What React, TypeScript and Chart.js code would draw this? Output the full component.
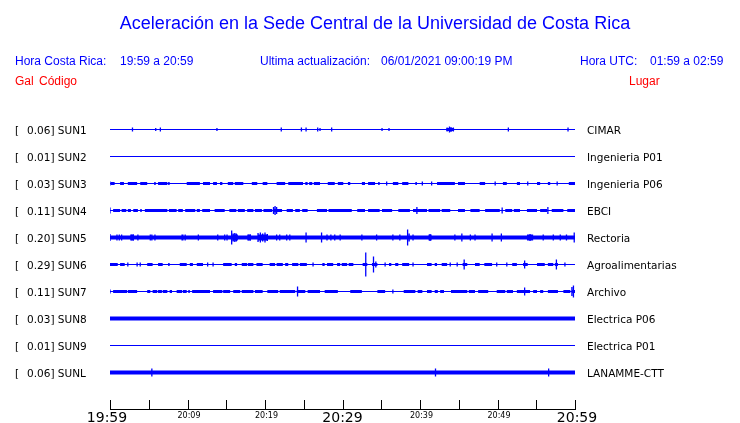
import React, { useEffect, useRef } from 'react';
import { Chart, registerables } from 'chart.js';

Chart.register(...registerables);

// ---------- texts ----------
const TITLE = 'Aceleración en la Sede Central de la Universidad de Costa Rica';
const LOCAL_LABEL = 'Hora Costa Rica:';
const LOCAL_RANGE = '19:59 a 20:59';
const UPDATE_LABEL = 'Ultima actualización:';
const UPDATE_VALUE = '06/01/2021 09:00:19 PM';
const UTC_LABEL = 'Hora UTC:';
const UTC_RANGE = '01:59 a 02:59';
const GAL_HEADER = 'Gal';
const CODE_HEADER = 'Código';
const PLACE_HEADER = 'Lugar';

// ---------- stations ----------
const stations = ['SUN1', 'SUN2', 'SUN3', 'SUN4', 'SUN5', 'SUN6', 'SUN7', 'SUN8', 'SUN9', 'SUNL'];
const peakGal = ['0.06', '0.01', '0.03', '0.11', '0.20', '0.29', '0.11', '0.03', '0.01', '0.06'];
const places = ['CIMAR', 'Ingenieria P01', 'Ingenieria P06', 'EBCI', 'Rectoria', 'Agroalimentarias', 'Archivo', 'Electrica P06', 'Electrica P01', 'LANAMME-CTT'];

// background noise band (px) and burst band (px) per trace
const noisePx = [1, 1, 1, 1, 4, 1, 1, 4, 1, 4];
const burstPx = [3, 0, 3, 3, 6, 3, 3, 0, 0, 0];

// bursts: [start minute, end minute]
const sun1Bursts = [[43.4, 44.4]];
const sun2Bursts: number[][] = [];
const sun3Bursts = [[0.1, 0.6], [1.3, 1.8], [2.3, 3.5], [3.9, 4.8], [5.7, 5.9], [6.2, 7.4], [7.5, 7.7], [9.9, 11.6], [12.0, 12.9], [13.3, 13.8], [14.2, 14.5], [15.2, 15.9], [16.1, 17.2], [18.3, 19.0], [19.7, 20.3], [21.5, 22.6], [23.0, 24.9], [25.2, 25.5], [25.7, 26.1], [26.3, 27.1], [28.1, 29.0], [29.4, 30.1], [30.7, 31.0], [32.5, 32.9], [33.3, 34.2], [34.6, 34.8], [36.5, 37.2], [37.7, 38.5], [39.4, 39.6], [42.2, 44.5], [44.9, 45.8], [47.7, 48.4], [50.7, 51.2], [52.5, 52.9], [55.1, 55.5], [56.5, 56.8], [59.2, 60]];
const sun4Bursts = [[0.4, 1.3], [1.5, 2.1], [2.3, 2.7], [3.0, 3.6], [3.9, 4.1], [4.5, 7.4], [7.6, 8.6], [8.8, 9.4], [9.7, 11.0], [11.2, 11.6], [11.9, 12.9], [13.5, 14.8], [15.4, 16.3], [16.5, 17.4], [17.7, 18.5], [18.7, 19.6], [19.8, 20.9], [21.0, 22.2], [22.8, 23.6], [23.9, 24.5], [24.8, 25.5], [26.7, 28.0], [28.2, 31.2], [31.9, 32.9], [33.3, 34.8], [35.1, 36.4], [37.2, 38.7], [39.1, 40.9], [41.1, 42.6], [42.8, 43.9], [44.9, 45.8], [46.5, 47.7], [48.4, 50.3], [51.0, 51.9], [52.1, 52.9], [53.8, 55.1], [55.5, 56.4], [57.0, 58.5], [59.0, 60]];
const sun5Bursts = [[2.7, 3.1], [15.8, 16.5], [17.8, 18.2], [19.1, 20.3], [41.1, 41.5], [53.8, 54.6]];
const sun6Bursts = [[0, 1.0], [1.3, 1.9], [4.8, 5.5], [6.2, 6.8], [7.5, 7.7], [9.0, 9.9], [10.3, 10.7], [11.2, 12.0], [14.6, 15.7], [16.1, 16.4], [17.0, 17.7], [17.8, 18.5], [18.9, 19.7], [20.6, 21.3], [21.5, 22.3], [22.6, 23.0], [23.5, 24.3], [24.5, 25.4], [27.4, 27.7], [28.0, 28.8], [29.3, 29.7], [29.9, 30.6], [30.8, 31.4], [32.6, 33.2], [33.8, 34.5], [36.0, 36.3], [36.8, 37.2], [37.7, 38.6], [40.9, 41.5], [41.9, 42.2], [42.8, 43.5], [45.5, 46.1], [47.1, 47.7], [48.3, 49.3], [51.9, 52.5], [53.3, 53.9], [55.1, 56.1], [56.5, 57.2], [57.4, 57.8]];
const sun7Bursts = [[0.4, 2.2], [2.3, 3.5], [4.8, 5.2], [5.5, 6.1], [6.2, 6.7], [6.8, 7.4], [7.7, 8.0], [8.6, 9.3], [9.4, 9.9], [10.1, 10.3], [10.6, 12.9], [13.3, 14.5], [14.6, 15.5], [15.9, 16.8], [17.0, 18.5], [18.7, 19.7], [20.3, 21.7], [21.9, 23.9], [24.1, 25.2], [25.5, 27.1], [27.7, 29.4], [31.0, 32.5], [34.5, 35.5], [37.9, 39.4], [39.7, 40.3], [40.9, 41.5], [41.9, 42.3], [42.6, 43.1], [43.5, 43.6], [44.0, 46.1], [46.3, 47.1], [47.5, 48.8], [49.3, 49.4], [49.9, 51.0], [51.2, 52.0], [52.5, 54.2], [54.6, 55.1], [55.5, 55.9], [56.5, 57.8], [58.5, 59.4], [59.6, 60]];
const sun8Bursts: number[][] = [];
const sun9Bursts: number[][] = [];
const sunLBursts: number[][] = [];

// spikes: [minute, half amplitude in px]
const sun1Spikes = [[2.9, 2], [5.9, 1.5], [6.5, 2], [13.8, 1.5], [22.1, 2], [24.7, 2], [25.3, 2], [26.8, 2], [27.1, 1.5], [28.6, 2], [35.1, 1.5], [36.0, 1.5], [43.5, 2], [43.8, 3], [44.0, 2.5], [44.3, 2], [51.4, 2], [59.1, 2]];
const sun2Spikes: number[][] = [];
const sun3Spikes = [[0.0, 2], [35.7, 2], [40.3, 2], [41.5, 2], [49.7, 2], [53.9, 2], [57.7, 2]];
const sun4Spikes = [[0.0, 3], [21.1, 3.5], [21.3, 4.5], [21.5, 3.5], [39.6, 3.5], [50.6, 3], [56.5, 3.5]];
const sun5Spikes = [[0.0, 3.5], [0.9, 3], [1.2, 3], [1.5, 3], [2.7, 3], [3.0, 3], [3.6, 3], [5.2, 3], [5.4, 3], [5.8, 3], [9.3, 3], [9.4, 3], [9.7, 3], [11.4, 3], [13.9, 3], [14.8, 3], [15.1, 3], [15.7, 7], [15.9, 4], [16.1, 4.5], [16.3, 4], [17.8, 3], [18.1, 3], [19.1, 4.5], [19.4, 5], [19.7, 4], [20.0, 5], [20.3, 3.5], [21.5, 3], [21.9, 3], [22.8, 3], [23.2, 3], [25.3, 5], [27.3, 5], [28.0, 3], [28.5, 3], [29.0, 3], [29.7, 3], [32.5, 3], [34.4, 3], [36.5, 3], [37.4, 3], [38.4, 8], [38.6, 4], [39.1, 3], [41.3, 3.5], [44.5, 3], [45.4, 4], [46.5, 3], [47.1, 3], [49.3, 4], [50.5, 4], [54.2, 3.5], [55.9, 3], [57.2, 3], [58.1, 3], [58.9, 3], [59.9, 5]];
const sun6Spikes = [[2.3, 2], [3.5, 2], [3.9, 2], [12.6, 2], [13.3, 2], [26.2, 2], [33.0, 12], [34.0, 8], [34.3, 3], [35.5, 2], [39.1, 2], [43.9, 2], [44.8, 2], [45.7, 5], [49.9, 2], [51.2, 2], [53.5, 4], [57.6, 5], [58.7, 2]];
const sun7Spikes = [[0.0, 2], [24.2, 5], [36.5, 2], [53.5, 4], [59.6, 4.5], [59.8, 6]];
const sun8Spikes: number[][] = [];
const sun9Spikes: number[][] = [];
const sunLSpikes = [[5.4, 4], [42.0, 4], [56.6, 4]];

const bursts = [sun1Bursts, sun2Bursts, sun3Bursts, sun4Bursts, sun5Bursts, sun6Bursts, sun7Bursts, sun8Bursts, sun9Bursts, sunLBursts];
const spikes = [sun1Spikes, sun2Spikes, sun3Spikes, sun4Spikes, sun5Spikes, sun6Spikes, sun7Spikes, sun8Spikes, sun9Spikes, sunLSpikes];

// ---------- time axis ----------
const tickMinutes = [0, 5, 10, 15, 20, 25, 30, 35, 40, 45, 50, 55, 60];
const labelMinutes = [0, 10, 20, 30, 40, 50, 60];
const labelTexts = ['19:59', '20:09', '20:19', '20:29', '20:39', '20:49', '20:59'];
const labelMajor = [true, false, false, true, false, false, true];

const BLUE = '#0000ff';
const RED = '#ff0000';
const ROW_PX = 27;

const textPlugin = {
  id: 'seismoText',
  afterDraw(chart: any) {
    const ctx = chart.ctx;
    const xs = chart.scales.x;
    const ys = chart.scales.y;
    ctx.save();
    ctx.textBaseline = 'alphabetic';
    // title
    ctx.fillStyle = BLUE;
    ctx.font = '18px "Liberation Sans", Arial, sans-serif';
    ctx.textAlign = 'center';
    ctx.fillText(TITLE, 375, 29);
    // header
    ctx.textAlign = 'left';
    ctx.font = '12px "Liberation Sans", Arial, sans-serif';
    ctx.fillText(LOCAL_LABEL, 15, 65);
    ctx.fillText(LOCAL_RANGE, 120, 65);
    ctx.fillText(UPDATE_LABEL, 260, 65);
    ctx.fillText(UPDATE_VALUE, 381, 65);
    ctx.fillText(UTC_LABEL, 580, 65);
    ctx.fillText(UTC_RANGE, 650, 65);
    ctx.fillStyle = RED;
    ctx.fillText(GAL_HEADER, 15, 85);
    ctx.fillText(CODE_HEADER, 39, 85);
    ctx.fillText(PLACE_HEADER, 629, 85);
    // row labels
    ctx.fillStyle = '#000000';
    ctx.font = '10.5px "DejaVu Sans", sans-serif';
    stations.forEach((s, i) => {
      const y = ys.getPixelForValue(i + 1) + 4;
      ctx.fillText('[', 15, y);
      ctx.fillText(peakGal[i] + '] ' + s, 27, y);
      ctx.fillText(places[i], 587, y);
    });
    // time axis
    const axisY = 409.5;
    ctx.strokeStyle = '#000000';
    ctx.lineWidth = 1;
    ctx.beginPath();
    ctx.moveTo(Math.round(xs.getPixelForValue(0)), axisY);
    ctx.lineTo(Math.round(xs.getPixelForValue(60)) + 1, axisY);
    tickMinutes.forEach((m) => {
      const px = Math.round(xs.getPixelForValue(m)) + 0.5;
      ctx.moveTo(px, 400);
      ctx.lineTo(px, axisY);
    });
    ctx.stroke();
    ctx.textAlign = 'center';
    labelMinutes.forEach((m, i) => {
      const px = xs.getPixelForValue(m);
      if (labelMajor[i]) {
        ctx.font = '14px "DejaVu Sans", sans-serif';
        const shift = i === 0 ? -3 : i === labelMinutes.length - 1 ? 2 : 0;
        ctx.fillText(labelTexts[i], px + shift, 422);
      } else {
        ctx.font = '8px "DejaVu Sans", sans-serif';
        ctx.fillText(labelTexts[i], px + 1.5, 418);
      }
    });
    ctx.restore();
  },
};

function buildDatasets() {
  const ds: any[] = [];
  stations.forEach((s, i) => {
    const row = i + 1;
    ds.push({
      type: 'line',
      label: s,
      data: [{ x: 0, y: row }, { x: 60, y: row }],
      borderColor: BLUE,
      borderWidth: noisePx[i],
      borderCapStyle: 'butt',
      pointRadius: 0,
    });
    if (bursts[i].length) {
      const pts: any[] = [];
      bursts[i].forEach(([a, b]) => {
        pts.push({ x: a, y: row }, { x: b, y: row }, { x: b, y: null });
      });
      ds.push({
        type: 'line',
        label: s + ' bursts',
        data: pts,
        borderColor: BLUE,
        borderWidth: burstPx[i],
        borderCapStyle: 'butt',
        pointRadius: 0,
        spanGaps: false,
      });
    }
    if (spikes[i].length) {
      const pts: any[] = [];
      spikes[i].forEach(([t, a]) => {
        const d = a / ROW_PX;
        pts.push({ x: t, y: row - d }, { x: t, y: row + d }, { x: t, y: null });
      });
      ds.push({
        type: 'line',
        label: s + ' spikes',
        data: pts,
        borderColor: BLUE,
        borderWidth: 1.3,
        borderCapStyle: 'butt',
        pointRadius: 0,
        spanGaps: false,
      });
    }
  });
  return ds;
}

export default function App() {
  const ref = useRef<HTMLCanvasElement | null>(null);
  useEffect(() => {
    if (!ref.current) return;
    const chart = new Chart(ref.current, {
      type: 'line',
      data: { datasets: buildDatasets() },
      options: {
        responsive: false,
        animation: false,
        devicePixelRatio: 1,
        parsing: true,
        layout: { padding: { left: 110, right: 165, top: 102.5, bottom: 23.5 } },
        plugins: { legend: { display: false }, tooltip: { enabled: false }, title: { display: false } },
        scales: {
          x: { type: 'linear', min: 0, max: 60, display: false, offset: false },
          y: { type: 'linear', min: 0, max: 11, reverse: true, display: false },
        },
      },
      plugins: [textPlugin],
    } as any);
    return () => chart.destroy();
  }, []);
  return (
    <canvas
      ref={ref}
      width={740}
      height={423}
      style={{ position: 'absolute', left: 0, top: 0, display: 'block' }}
    />
  );
}
